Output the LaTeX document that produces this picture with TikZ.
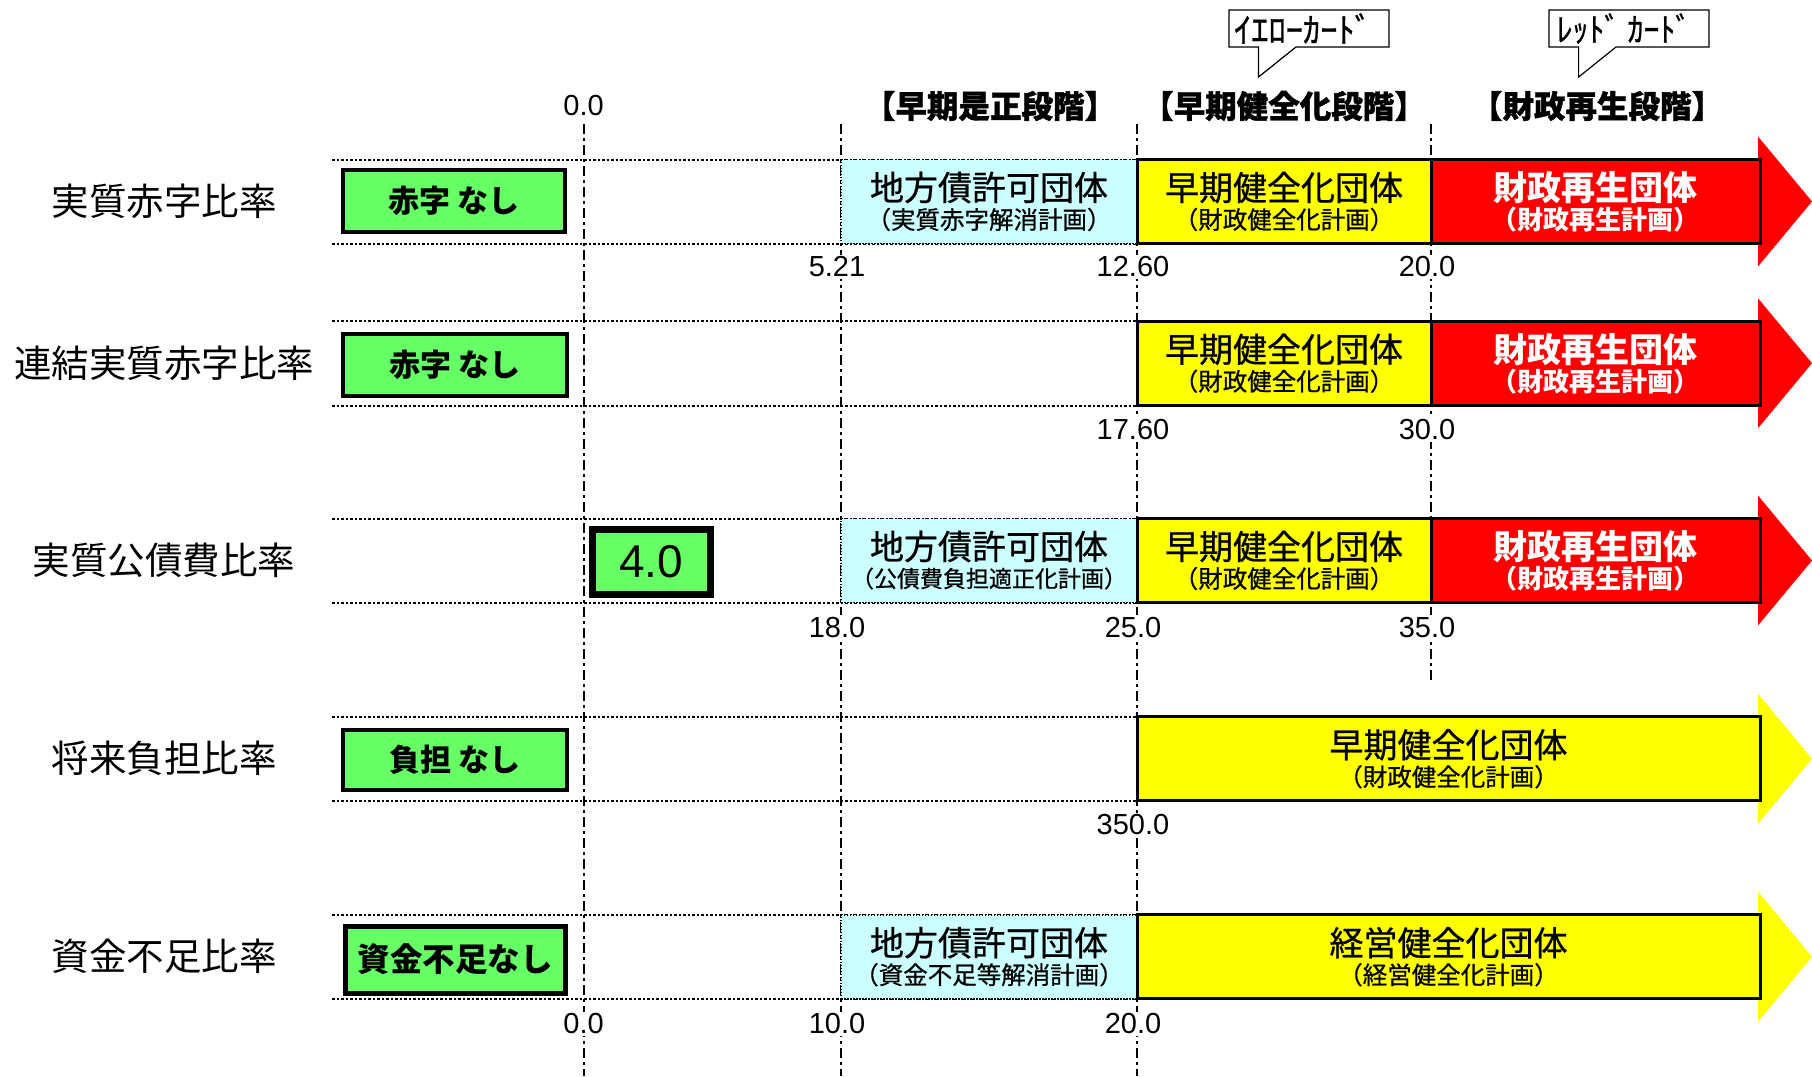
\documentclass[tikz,border=0pt]{standalone}
\usepackage{fontspec}
\setmainfont{Noto Sans CJK JP}
\newfontfamily\numfont{Liberation Sans}
\newfontfamily\medfont{Noto Sans CJK JP}[FakeBold=0.7]
\newfontfamily\heavyfont{Noto Sans CJK JP}[BoldFeatures={FakeBold=1.2}]
\definecolor{grn}{HTML}{66FF66}
\definecolor{cyn}{HTML}{CCFFFF}
\definecolor{ylw}{HTML}{FFFF00}
\definecolor{rd}{HTML}{FF0000}
\tikzset{
  vline/.style={line width=2pt, dash pattern=on 10pt off 4pt on 3pt off 4pt},
  rowline/.style={line width=2pt, dash pattern=on 2.5pt off 2pt},
  boxbase/.style={inner sep=0pt, outer sep=0pt, minimum height=84pt},
  cyanbox/.style={boxbase, fill=cyn, draw=black, line width=1.5pt, dash pattern=on 1.5pt off 1.5pt},
  ylwbox/.style={boxbase, fill=ylw, draw=black, line width=3pt},
  redbox/.style={boxbase, fill=rd, draw=black, line width=3pt},
  greenbox/.style={fill=grn, draw=black, line width=4.5pt, inner sep=0pt, outer sep=0pt},
  maintxt/.style={font=\medfont\fontsize{34}{36}\selectfont, inner sep=0pt},
  subtxt/.style={font=\medfont\fontsize{24.5}{26}\selectfont, inner sep=0pt},
  redmain/.style={font=\bfseries\fontsize{34}{36}\selectfont, text=white, inner sep=0pt},
  redsub/.style={font=\bfseries\fontsize{26}{28}\selectfont, text=white, inner sep=0pt},
  greentxt/.style={font=\bfseries\fontsize{31}{33}\selectfont, inner sep=0pt},
  leftlbl/.style={font=\fontsize{37.5}{40}\selectfont, inner sep=0pt},
  headlbl/.style={font=\heavyfont\bfseries\fontsize{31.5}{34}\selectfont, inner sep=0pt},
  numlbl/.style={font=\numfont\fontsize{29}{32}\selectfont, fill=white, inner sep=2pt},
  callout/.style={draw=black, fill=white, line width=1.2pt},
  callouttxt/.style={font=\medfont\fontsize{30}{32}\selectfont, inner sep=0pt}
}
\begin{document}
\begin{tikzpicture}[x=1pt,y=-1pt]
\path[use as bounding box] (0,0) rectangle (1812,1076);
% row dotted lines
\foreach \t/\b in {159.5/243.5, 321/405.5, 518.5/602.5, 716.5/801, 915/998.5}{
  \draw[rowline] (332,\t) -- (1137,\t);
  \draw[rowline] (332,\b) -- (1137,\b);
}
% vertical dash-dot lines
\draw[vline] (583.6,124) -- (583.6,1076);
\draw[vline] (841.3,124) -- (841.3,1076);
\draw[vline] (1137,124) -- (1137,1076);
\draw[vline] (1431,124) -- (1431,681);

% callouts
\draw[callout] (1229,10) -- (1389,10) -- (1389,47) -- (1296,47) -- (1258.5,77) -- (1258.5,47) -- (1229,47) -- cycle;
\node[callouttxt] (cy) at (1303,28.5) {\scalebox{1.15}[1.15]{ｲｴﾛｰｶｰﾄﾞ}};
\draw[callout] (1549,10) -- (1709,10) -- (1709,47) -- (1616,47) -- (1578.6,77) -- (1578.6,47) -- (1549,47) -- cycle;
\node[callouttxt, font=\medfont\fontsize{29}{31}\selectfont] (cr) at (1624,28.5) {\scalebox{1.1}[1.15]{ﾚｯﾄﾞ ｶｰﾄﾞ}};

% headers
\node[numlbl, fill=none] (h0) at (583.6,106) {0.0};
\node[headlbl] (h1) at (990,106) {【早期是正段階】};
\node[headlbl] (h2) at (1284,106) {【早期健全化段階】};
\node[headlbl] (h3) at (1597,106) {【財政再生段階】};

% left labels
\node[leftlbl] (l1) at (164,201.5) {実質赤字比率};
\node[leftlbl] (l2) at (164,363.25) {連結実質赤字比率};
\node[leftlbl] (l3) at (164,560.5) {実質公債費比率};
\node[leftlbl] (l4) at (164,758.75) {将来負担比率};
\node[leftlbl] (l5) at (164,956.75) {資金不足比率};

% green boxes
\node[greenbox, minimum width=222pt, minimum height=62pt] (g1) at (454,201) {};
\node[greentxt] (g1t) at (g1.center) {赤字 なし};
\node[greenbox, minimum width=224pt, minimum height=62pt] (g2) at (455,365) {};
\node[greentxt] (g2t) at (g2.center) {赤字 なし};
\node[greenbox, line width=7pt, minimum width=118pt, minimum height=65pt] (g3) at (651,561.5) {};
\node[font=\numfont\fontsize{46}{48}\selectfont, inner sep=0pt] (g3t) at (g3.center) {4.0};
\node[greenbox, minimum width=224pt, minimum height=60pt] (g4) at (455,760) {};
\node[greentxt] (g4t) at (g4.center) {負担 なし};
\node[greenbox, line width=5pt, minimum width=220pt, minimum height=67pt] (g5) at (455,959.5) {};
\node[greentxt, font=\bfseries\fontsize{32.5}{34}\selectfont] (g5t) at (g5.center) {資金不足なし};

% ===== Row 1 =====
\node[cyanbox, minimum width=296pt] (c1) at (989,201.5) {};
\node[maintxt] (c1a) at ([yshift=14pt]c1.center) {地方債許可団体};
\node[subtxt] (c1b) at ([yshift=-18pt]c1.center) {（実質赤字解消計画）};
\fill[rd] (1758,136.5) -- (1812,201.5) -- (1758,266.5) -- cycle;
\node[ylwbox, minimum width=294pt] (y1) at (1284,201.5) {};
\node[maintxt] (y1a) at ([yshift=14pt]y1.center) {早期健全化団体};
\node[subtxt] (y1b) at ([yshift=-18pt]y1.center) {（財政健全化計画）};
\node[redbox, minimum width=329pt] (rr1) at (1595.5,201.5) {};
\node[redmain] (rr1a) at ([yshift=14pt]rr1.center) {財政再生団体};
\node[redsub] (rr1b) at ([yshift=-18pt]rr1.center) {（財政再生計画）};

% ===== Row 2 =====
\fill[rd] (1758,298.25) -- (1812,363.25) -- (1758,428.25) -- cycle;
\node[ylwbox, minimum width=294pt] (y2) at (1284,363.25) {};
\node[maintxt] (y2a) at ([yshift=14pt]y2.center) {早期健全化団体};
\node[subtxt] (y2b) at ([yshift=-18pt]y2.center) {（財政健全化計画）};
\node[redbox, minimum width=329pt] (rr2) at (1595.5,363.25) {};
\node[redmain] (rr2a) at ([yshift=14pt]rr2.center) {財政再生団体};
\node[redsub] (rr2b) at ([yshift=-18pt]rr2.center) {（財政再生計画）};

% ===== Row 3 =====
\node[cyanbox, minimum width=296pt] (c3) at (989,560.5) {};
\node[maintxt] (c3a) at ([yshift=14pt]c3.center) {地方債許可団体};
\node[subtxt, font=\medfont\fontsize{23}{25}\selectfont] (c3b) at ([yshift=-18pt]c3.center) {（公債費負担適正化計画）};
\fill[rd] (1758,495.5) -- (1812,560.5) -- (1758,625.5) -- cycle;
\node[ylwbox, minimum width=294pt] (y3) at (1284,560.5) {};
\node[maintxt] (y3a) at ([yshift=14pt]y3.center) {早期健全化団体};
\node[subtxt] (y3b) at ([yshift=-18pt]y3.center) {（財政健全化計画）};
\node[redbox, minimum width=329pt] (rr3) at (1595.5,560.5) {};
\node[redmain] (rr3a) at ([yshift=14pt]rr3.center) {財政再生団体};
\node[redsub] (rr3b) at ([yshift=-18pt]rr3.center) {（財政再生計画）};

% ===== Row 4 =====
\fill[ylw] (1758,693.75) -- (1812,758.75) -- (1758,823.75) -- cycle;
\node[ylwbox, minimum width=623pt] (y4) at (1448.5,758.75) {};
\node[maintxt] (y4a) at ([yshift=14pt]y4.center) {早期健全化団体};
\node[subtxt] (y4b) at ([yshift=-18pt]y4.center) {（財政健全化計画）};

% ===== Row 5 =====
\node[cyanbox, minimum width=296pt] (c5) at (989,956.75) {};
\node[maintxt] (c5a) at ([yshift=14pt]c5.center) {地方債許可団体};
\node[subtxt] (c5b) at ([yshift=-18pt]c5.center) {（資金不足等解消計画）};
\fill[ylw] (1758,891.75) -- (1812,956.75) -- (1758,1021.75) -- cycle;
\node[ylwbox, minimum width=623pt] (y5) at (1448.5,956.75) {};
\node[maintxt] (y5a) at ([yshift=14pt]y5.center) {経営健全化団体};
\node[subtxt] (y5b) at ([yshift=-18pt]y5.center) {（経営健全化計画）};

% value labels
\node[numlbl] (n11) at (837,267) {5.21};
\node[numlbl] (n12) at (1133,267) {12.60};
\node[numlbl] (n13) at (1427,267) {20.0};
\node[numlbl] (n22) at (1133,430) {17.60};
\node[numlbl] (n23) at (1427,430) {30.0};
\node[numlbl] (n31) at (837,627.5) {18.0};
\node[numlbl] (n32) at (1133,627.5) {25.0};
\node[numlbl] (n33) at (1427,627.5) {35.0};
\node[numlbl] (n42) at (1133,825) {350.0};
\node[numlbl] (n50) at (583.6,1024) {0.0};
\node[numlbl] (n51) at (837,1024) {10.0};
\node[numlbl] (n52) at (1133,1024) {20.0};
\end{tikzpicture}
\end{document}
